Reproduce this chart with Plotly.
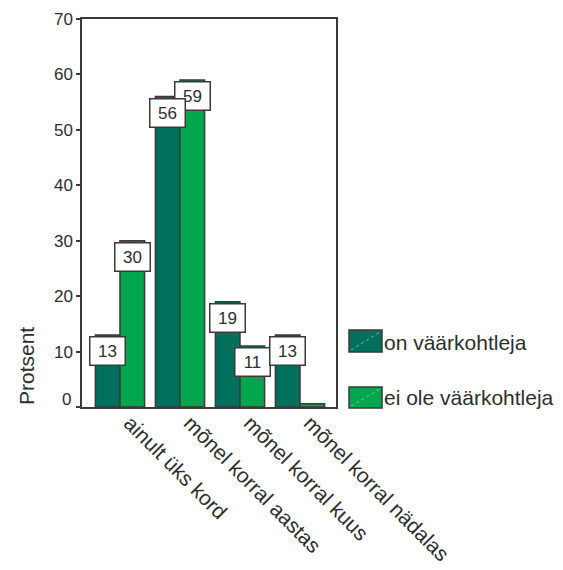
import plotly.graph_objects as go

# ---- data ----
categories = ["ainult üks kord", "mõnel korral aastas", "mõnel korral kuus", "mõnel korral nädalas"]
series_names = ["on väärkohtleja", "ei ole väärkohtleja"]
values_on = [13, 56, 19, 13]
values_ei = [30, 59, 11, 0.6]
labels_on = ["13", "56", "19", "13"]
labels_ei = ["30", "59", "11", ""]
y_tick_vals = [0, 10, 20, 30, 40, 50, 60, 70]
y_tick_text = ["0", "10", "20", "30", "40", "50", "60", "70"]

# ---- style ----
OFF = 8                      # page body margin of the html page
W, H = 563 - OFF, 570 - OFF
L, R, T, B = 82 - OFF, 227, 19 - OFF, 163
DARK = "#00705c"
LIGHT = "#00a74f"
EDGE = "#3a3a3a"
TXT = "#2e2e2e"
FONT = "Liberation Sans, Arial, sans-serif"
BARGAP = 0.18
half = (1 - BARGAP) / 4  # center offset of each bar within group

plot_w = W - L - R
plot_h = H - T - B


def px_x(p):  # screen pixel -> paper
    return (p - OFF - L) / plot_w


def px_y(p):
    return (H - B - (p - OFF)) / plot_h


x_idx = list(range(len(categories)))

fig = go.Figure()
fig.add_trace(go.Bar(x=x_idx, y=values_on, name=series_names[0],
                     marker=dict(color=DARK, line=dict(color=EDGE, width=1.5))))
fig.add_trace(go.Bar(x=x_idx, y=values_ei, name=series_names[1],
                     marker=dict(color=LIGHT, line=dict(color=EDGE, width=1.5))))

annotations = []
for i in x_idx:
    for val, lab, off in ((values_ei[i], labels_ei[i], +half), (values_on[i], labels_on[i], -half)):
        if lab:
            annotations.append(dict(
                x=i + off, y=val, xref="x", yref="y", text=lab, showarrow=False,
                yanchor="top", xanchor="center", yshift=-1,
                width=32, height=25, bgcolor="white", bordercolor=EDGE,
                borderwidth=1.5, borderpad=1,
                font=dict(family=FONT, size=17, color=TXT)))

# "0" tick label sits a little above the axis line
annotations.append(dict(x=px_x(73), y=0, xref="paper", yref="y", text="0",
                        showarrow=False, xanchor="right", yanchor="middle", yshift=8,
                        font=dict(family=FONT, size=17, color=TXT)))

# axis title
annotations.append(dict(x=px_x(26), y=px_y(366), xref="paper", yref="paper",
                        text="Protsent", textangle=-90, showarrow=False,
                        xanchor="center", yanchor="middle",
                        font=dict(family=FONT, size=21, color=TXT)))

# custom legend
shapes = []
legend_rows = [(series_names[0], DARK, 330, 352, 342), (series_names[1], LIGHT, 387, 408, 397)]
for name, col, y0, y1, yc in legend_rows:
    shapes.append(dict(type="rect", xref="paper", yref="paper",
                       x0=px_x(349), x1=px_x(382), y0=px_y(y1), y1=px_y(y0),
                       fillcolor=col, line=dict(color=EDGE, width=1.5)))
    shapes.append(dict(type="line", xref="paper", yref="paper",
                       x0=px_x(351), x1=px_x(380), y0=px_y(y1 - 2), y1=px_y(y0 + 2),
                       line=dict(color="rgba(200,230,210,0.6)", width=1, dash="dot")))
    annotations.append(dict(x=px_x(382), y=px_y(yc), xref="paper", yref="paper",
                            text=name, showarrow=False, xanchor="left", yanchor="middle",
                            font=dict(family=FONT, size=21, color=TXT)))

fig.update_layout(
    width=W, height=H,
    margin=dict(l=L, r=R, t=T, b=B, pad=0, autoexpand=False),
    paper_bgcolor="white", plot_bgcolor="white",
    barmode="group", bargap=BARGAP, bargroupgap=0,
    showlegend=False,
    font=dict(family=FONT, color=TXT),
    annotations=annotations, shapes=shapes,
)
fig.update_xaxes(
    tickmode="array", tickvals=x_idx, ticktext=categories,
    range=[-0.633, 3.6], tickangle=45, automargin=False,
    ticklabelshift=10, ticklabelstandoff=-6,
    tickfont=dict(family=FONT, size=21, color=TXT),
    showline=True, linecolor=EDGE, linewidth=1.5, mirror=True,
    ticks="", showgrid=False, zeroline=False,
)
fig.update_yaxes(
    range=[0, 70], tickmode="array", tickvals=y_tick_vals,
    ticktext=[""] + y_tick_text[1:], automargin=False,
    tickfont=dict(family=FONT, size=17, color=TXT),
    showline=True, linecolor=EDGE, linewidth=1.5, mirror=True,
    ticks="outside", ticklen=4, tickcolor=EDGE, tickwidth=1.5,
    showgrid=False, zeroline=False,
)

fig.write_html("out.html")
